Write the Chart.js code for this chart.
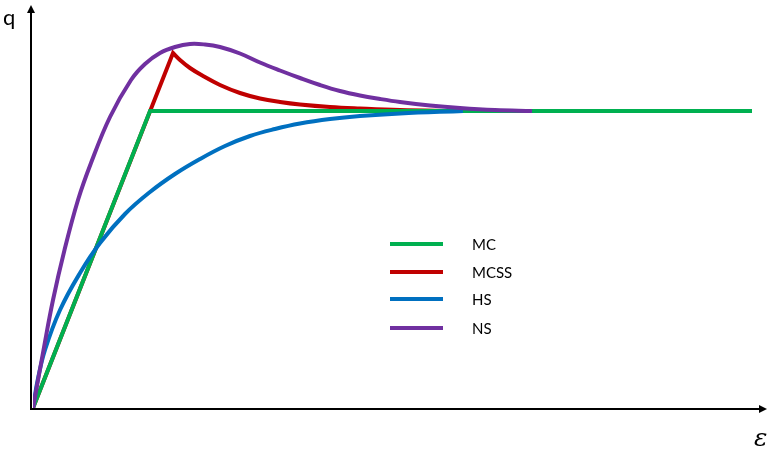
<!DOCTYPE html>
<html>
<head>
<meta charset="utf-8">
<script src="https://cdn.jsdelivr.net/npm/chart.js@4.4.1/dist/chart.umd.min.js"></script>
<style>
  html, body { margin: 0; padding: 0; background: #ffffff; }
  canvas { display: block; }
</style>
</head>
<body>
<canvas id="chart" width="768" height="455"></canvas>
<script>
// Strain (x) and deviator stress q (y), arbitrary units
const seriesNames = ['MC', 'MCSS', 'HS', 'NS'];
const seriesColors = ['#00B050', '#C00000', '#0070C0', '#7030A0'];

// MC: linear elastic, then perfectly plastic
const mcX = [0, 1.17, 7.19];
const mcQ = [0, 2.97, 2.97];

// MCSS: peak then softening to the residual value (peak listed twice for a sharp corner)
const mcssX = [0, 1.40, 1.40, 1.47, 1.57, 1.70, 1.87, 2.07, 2.27, 2.47, 2.67, 2.97, 3.27, 3.67, 4.22];
const mcssQ = [0, 3.55, 3.55, 3.48, 3.40, 3.32, 3.23, 3.15, 3.095, 3.06, 3.035, 3.01, 2.995, 2.98, 2.97];

// HS: hyperbolic hardening
const hsX = [0, 0.045, 0.12, 0.27, 0.47, 0.67, 0.92, 1.17, 1.42, 1.67, 1.92, 2.17, 2.42, 2.67, 2.97, 3.27, 3.67, 4.30];
const hsQ = [0, 0.27, 0.58, 0.98, 1.35, 1.65, 1.94, 2.16, 2.34, 2.49, 2.62, 2.72, 2.79, 2.845, 2.89, 2.92, 2.945, 2.97];

// NS: smooth peak and softening
const nsX = [0, 0.105, 0.20, 0.315, 0.45, 0.58, 0.77, 0.98, 1.12, 1.27, 1.42, 1.57, 1.72, 1.87, 2.07, 2.27, 2.47, 2.67, 2.87, 3.07, 3.27, 3.47, 3.67, 3.97, 4.27, 4.62, 4.99];
const nsQ = [0, 0.58, 1.08, 1.58, 2.08, 2.45, 2.91, 3.28, 3.44, 3.55, 3.61, 3.64, 3.635, 3.61, 3.545, 3.455, 3.375, 3.30, 3.23, 3.17, 3.125, 3.09, 3.06, 3.025, 3.00, 2.98, 2.97];

const axisLabels = { x: 'ε', y: 'q' };

function pts(xs, ys) { return xs.map((x, i) => ({ x: x, y: ys[i] })); }

const seriesData = [pts(mcX, mcQ), pts(mcssX, mcssQ), pts(hsX, hsQ), pts(nsX, nsQ)];
const tensions = [0, 0.4, 0.4, 0.4];
const drawOrder = [2, 3, 1, 0]; // lower value is painted on top

const datasets = seriesNames.map((name, i) => ({
  label: name,
  data: seriesData[i],
  borderColor: seriesColors[i],
  backgroundColor: seriesColors[i],
  borderWidth: 4,
  pointRadius: 0,
  pointHoverRadius: 0,
  tension: tensions[i],
  fill: false,
  order: drawOrder[i]
}));

// Arrowed axes, axis symbols and the legend block
const decorations = {
  id: 'decorations',
  afterDatasetsDraw(chart) {
    const ctx = chart.ctx;
    const a = chart.chartArea;
    ctx.save();
    ctx.strokeStyle = '#000000';
    ctx.fillStyle = '#000000';
    ctx.lineWidth = 2;
    const ax = a.left - 2;
    const ay = a.bottom + 1;
    // y axis
    ctx.beginPath();
    ctx.moveTo(ax, ay + 1);
    ctx.lineTo(ax, 12);
    ctx.stroke();
    ctx.beginPath();
    ctx.moveTo(ax, 5);
    ctx.lineTo(ax - 4, 13);
    ctx.lineTo(ax + 4, 13);
    ctx.closePath();
    ctx.fill();
    // x axis
    ctx.beginPath();
    ctx.moveTo(ax - 1, ay);
    ctx.lineTo(760, ay);
    ctx.stroke();
    ctx.beginPath();
    ctx.moveTo(767, ay);
    ctx.lineTo(759, ay - 4);
    ctx.lineTo(759, ay + 4);
    ctx.closePath();
    ctx.fill();

    // axis symbols
    ctx.font = '22px Lato, "Liberation Sans", sans-serif';
    ctx.textBaseline = 'alphabetic';
    ctx.textAlign = 'left';
    ctx.fillText(axisLabels.y, 3, 25);
    ctx.font = 'italic 25px "DejaVu Serif", "Liberation Serif", serif';
    ctx.fillText(axisLabels.x, 754, 446);

    // legend
    const ys = [244, 272, 299, 328];
    ctx.lineWidth = 4;
    ctx.font = '15px Lato, "Liberation Sans", sans-serif';
    ctx.textBaseline = 'middle';
    chart.data.datasets.forEach((ds, i) => {
      ctx.strokeStyle = ds.borderColor;
      ctx.beginPath();
      ctx.moveTo(390, ys[i]);
      ctx.lineTo(443, ys[i]);
      ctx.stroke();
      ctx.fillStyle = '#000000';
      ctx.fillText(ds.label, 472, ys[i] + 1);
    });
    ctx.restore();
  }
};

new Chart(document.getElementById('chart'), {
  type: 'line',
  data: { datasets: datasets },
  options: {
    responsive: false,
    animation: false,
    layout: { padding: { left: 33, right: 3, top: 8, bottom: 47 } },
    scales: {
      x: { type: 'linear', min: 0, max: 7.32, display: false },
      y: { type: 'linear', min: 0, max: 4.0, display: false }
    },
    plugins: {
      legend: { display: false },
      tooltip: { enabled: false }
    }
  },
  plugins: [decorations]
});
</script>
</body>
</html>
